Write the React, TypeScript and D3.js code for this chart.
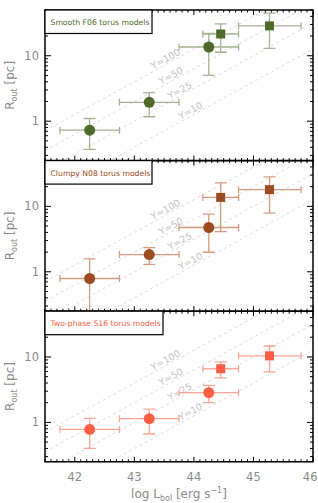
import React from 'react';
import * as d3 from 'd3';

// bins in log L_bol
const xVals = [42.25, 43.25, 44.25, 44.45, 45.27];
const xLo = [41.75, 42.75, 43.75, 44.15, 44.75];
const xHi = [42.75, 43.75, 44.75, 44.75, 45.8];
const shapes = ['circle', 'circle', 'circle', 'square', 'square'];

// R_out (pc) per torus model
const smoothY = [0.73, 1.94, 13.6, 21.5, 28.6];
const smoothLo = [0.37, 1.17, 5.0, 11.3, 13.0];
const smoothHi = [1.1, 2.73, 22.0, 30.7, 44.7];

const clumpyY = [0.79, 1.83, 4.75, 13.7, 18.0];
const clumpyLo = [0.2, 1.3, 1.99, 4.1, 7.9];
const clumpyHi = [1.57, 2.34, 7.6, 22.9, 28.3];

const twoY = [0.78, 1.14, 2.85, 6.6, 10.4];
const twoLo = [0.4, 0.665, 2.0, 4.8, 5.9];
const twoHi = [1.15, 1.6, 3.68, 8.4, 14.7];

const panelNames = ['Smooth F06 torus models', 'Clumpy N08 torus models', 'Two-phase S16 torus models'];
const panelColors = ['#4d6a28', '#9b4a22', '#ff5e45'];
const barColors = ['#a5b291', '#d39c7f', '#fca596'];

// Y = R_out / R_d lines, R_d = 0.4 (L/1e45)^0.5 pc
const yRatios = [100, 50, 25, 10];
const yLabelL = [43.55, 43.64, 43.79, 43.97];

const xTicks = [42, 43, 44, 45, 46];
const yTicks = [1, 10];

const W = 318;
const H = 503;
const left = 45;
const right = 313;
const top0 = 10;
const ph = 150.6;
const font = 'DejaVu Sans, sans-serif';

const x = d3.scaleLinear().domain([41.5, 46]).range([left, right]);
const rd = (L: number) => 0.4 * Math.pow(10, 0.5 * (L - 45));

function Panel({ i, ys, lo, hi }: { i: number; ys: number[]; lo: number[]; hi: number[] }) {
  const t = top0 + i * ph;
  const b = t + ph;
  const y = d3.scaleLog().domain([0.25, 50]).range([b, t]);
  const col = panelColors[i];
  const bar = barColors[i];
  const minorX = d3.range(41.5, 46.001, 0.1).map((v) => Math.round(v * 10) / 10);
  const minorY: number[] = [];
  [0.1, 1, 10].forEach((d) => {
    for (let k = 2; k <= 9; k++) {
      const v = k * d;
      if (v >= 0.25 && v <= 50) minorY.push(v);
    }
  });
  const clipId = `clip${i}`;
  const ang = (Math.atan((0.5 * (y(1) - y(10))) / (x(1) - x(0))) * 180) / Math.PI;
  const boxW = i === 2 ? 118 : 107;
  return (
    <g>
      <defs>
        <clipPath id={clipId}>
          <rect x={left} y={t} width={right - left} height={ph} />
        </clipPath>
      </defs>
      <g clipPath={`url(#${clipId})`}>
        {yRatios.map((r) => (
          <line
            key={r}
            x1={x(41.5)}
            y1={y(r * rd(41.5))}
            x2={x(46)}
            y2={y(r * rd(46))}
            stroke="#d2d2d2"
            strokeWidth={0.8}
            strokeDasharray="3,3"
          />
        ))}
        {yRatios.map((r, k) => {
          const px = x(yLabelL[k]);
          const py = y(r * rd(yLabelL[k])) - 2;
          return (
            <text
              key={'l' + r}
              x={px}
              y={py}
              transform={`rotate(${-ang},${px},${py})`}
              textAnchor="middle"
              fontSize={9.5}
              fontFamily={font}
              fill="#c4c4c4"
            >
              {`Y=${r}`}
            </text>
          );
        })}
        {ys.map((v, k) => (
          <g key={'e' + k} stroke={bar} strokeWidth={1.3} fill="none">
            <line x1={x(xLo[k])} x2={x(xHi[k])} y1={y(v)} y2={y(v)} />
            <line x1={x(xLo[k])} x2={x(xLo[k])} y1={y(v) - 3.5} y2={y(v) + 3.5} />
            <line x1={x(xHi[k])} x2={x(xHi[k])} y1={y(v) - 3.5} y2={y(v) + 3.5} />
            <line x1={x(xVals[k])} x2={x(xVals[k])} y1={y(lo[k])} y2={y(hi[k])} />
            <line x1={x(xVals[k]) - 6} x2={x(xVals[k]) + 6} y1={y(lo[k])} y2={y(lo[k])} />
            <line x1={x(xVals[k]) - 6} x2={x(xVals[k]) + 6} y1={y(hi[k])} y2={y(hi[k])} />
          </g>
        ))}
        {ys.map((v, k) =>
          shapes[k] === 'circle' ? (
            <circle key={'m' + k} cx={x(xVals[k])} cy={y(v)} r={5.5} fill={col} />
          ) : (
            <rect key={'m' + k} x={x(xVals[k]) - 4.5} y={y(v) - 4.5} width={9} height={9} fill={col} />
          )
        )}
      </g>
      {/* ticks */}
      <g stroke="#000" strokeWidth={1}>
        {minorX.map((v) => {
          const len = Math.abs(v - Math.round(v)) < 1e-6 ? 5 : 2.5;
          return (
            <g key={'tx' + v}>
              <line x1={x(v)} x2={x(v)} y1={b} y2={b - len} />
              <line x1={x(v)} x2={x(v)} y1={t} y2={t + len} />
            </g>
          );
        })}
        {minorY.map((v) => (
          <g key={'ty' + v}>
            <line x1={left} x2={left + 3} y1={y(v)} y2={y(v)} />
            <line x1={right} x2={right - 3} y1={y(v)} y2={y(v)} />
          </g>
        ))}
        {yTicks.map((v) => (
          <g key={'TY' + v}>
            <line x1={left} x2={left + 6} y1={y(v)} y2={y(v)} />
            <line x1={right} x2={right - 6} y1={y(v)} y2={y(v)} />
          </g>
        ))}
      </g>
      <rect x={left} y={t} width={right - left} height={ph} fill="none" stroke="#000" strokeWidth={1.5} />
      {yTicks.map((v) => (
        <text
          key={'yl' + v}
          x={39}
          y={y(v) + 4}
          textAnchor="end"
          fontSize={11.5}
          fontFamily={font}
          fill="#8a8a8a"
        >
          {v}
        </text>
      ))}
      <text
        transform={`translate(14,${t + ph / 2}) rotate(-90)`}
        textAnchor="middle"
        fontSize={12}
        fontFamily={font}
        fill="#8a8a8a"
      >
        R
        <tspan fontSize={8} dy={3}>out</tspan>
        <tspan dy={-3}> [pc]</tspan>
      </text>
      <rect x={left} y={t} width={boxW} height={23.5} fill="#fff" stroke="#000" strokeWidth={1.2} />
      <text x={left + 5.5} y={t + 15} fontSize={7.7} fontFamily={font} fill={col}>
        {panelNames[i]}
      </text>
    </g>
  );
}

export default function App() {
  const bottom = top0 + 3 * ph;
  return (
    <svg
      width={W}
      height={H}
      viewBox={`0 0 ${W} ${H}`}
      style={{ position: 'absolute', left: 0, top: 0, background: '#fff' }}
    >
      <Panel i={0} ys={smoothY} lo={smoothLo} hi={smoothHi} />
      <Panel i={1} ys={clumpyY} lo={clumpyLo} hi={clumpyHi} />
      <Panel i={2} ys={twoY} lo={twoLo} hi={twoHi} />
      {xTicks.map((v) => (
        <text
          key={'xl' + v}
          x={v === 46 ? W - 0.5 : x(v)}
          y={bottom + 19}
          textAnchor={v === 46 ? 'end' : 'middle'}
          fontSize={11.5}
          fontFamily={font}
          fill="#8a8a8a"
        >
          {v}
        </text>
      ))}
      <text x={179} y={bottom + 36} textAnchor="middle" fontSize={12} fontFamily={font} fill="#8a8a8a">
        log L
        <tspan fontSize={8} dy={3}>bol</tspan>
        <tspan dy={-3}> [erg s</tspan>
        <tspan fontSize={8} dy={-5}>−1</tspan>
        <tspan dy={5}>]</tspan>
      </text>
    </svg>
  );
}
